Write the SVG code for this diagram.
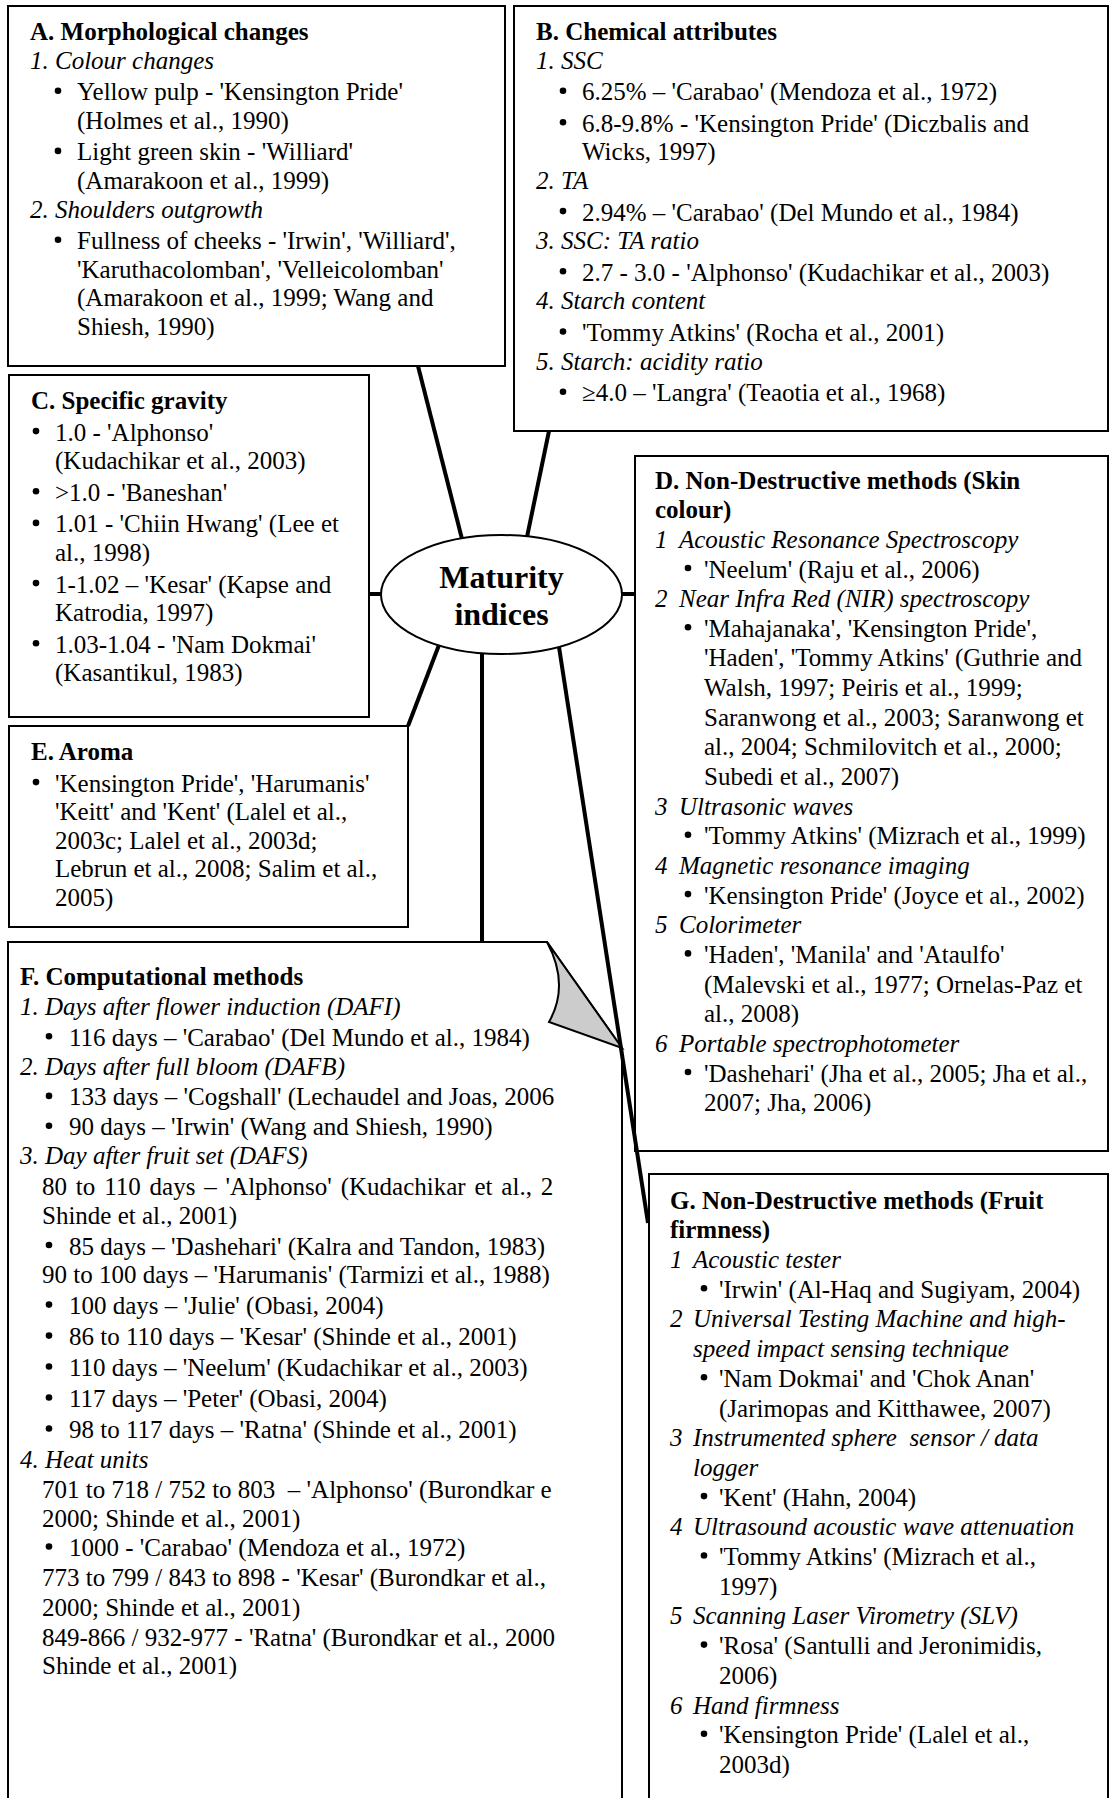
<svg xmlns="http://www.w3.org/2000/svg" width="1110" height="1798" viewBox="0 0 1110 1798">
<style>
text{font-family:"Liberation Serif","Times New Roman",serif;font-size:25px;fill:#000;white-space:pre}
.b{font-weight:bold}
.i{font-style:italic}
.big{font-size:32px;font-weight:bold;text-anchor:middle}
.dot{fill:#000}
.box{fill:#fff;stroke:#000;stroke-width:2}
.con{stroke:#000;stroke-width:4;fill:none;stroke-linecap:butt}
</style>
<defs>
<clipPath id="fclip"><rect x="0" y="942" width="558" height="856"/></clipPath>
</defs>
<rect width="1110" height="1798" fill="#fff"/>

<g id="nodeA">
<rect class="box" x="8" y="6" width="497" height="360"/>
<text class="b" x="30" y="40">A. Morphological changes</text>
<text class="i" x="30" y="68.6">1. Colour changes</text>
<circle class="dot" cx="58" cy="90.7" r="3.3"/><text x="77" y="100.2">Yellow pulp - 'Kensington Pride'</text>
<text x="77" y="128.8">(Holmes et al., 1990)</text>
<circle class="dot" cx="58" cy="150.9" r="3.3"/><text x="77" y="160.4">Light green skin - 'Williard'</text>
<text x="77" y="189">(Amarakoon et al., 1999)</text>
<text class="i" x="30" y="217.6">2. Shoulders outgrowth</text>
<circle class="dot" cx="58" cy="239.7" r="3.3"/><text x="77" y="249.2">Fullness of cheeks - 'Irwin', 'Williard',</text>
<text x="77" y="277.8">'Karuthacolomban', 'Velleicolomban'</text>
<text x="77" y="306.4">(Amarakoon et al., 1999; Wang and</text>
<text x="77" y="335">Shiesh, 1990)</text>
</g>

<g id="nodeB">
<rect class="box" x="514" y="6" width="594" height="425"/>
<text class="b" x="536" y="40">B. Chemical attributes</text>
<text class="i" x="536" y="68.6">1. SSC</text>
<circle class="dot" cx="563" cy="90.7" r="3.3"/><text x="582" y="100.2">6.25% – 'Carabao' (Mendoza et al., 1972)</text>
<circle class="dot" cx="563" cy="122.3" r="3.3"/><text x="582" y="131.8">6.8-9.8% - 'Kensington Pride' (Diczbalis and</text>
<text x="582" y="160.4">Wicks, 1997)</text>
<text class="i" x="536" y="189">2. TA</text>
<circle class="dot" cx="563" cy="211.1" r="3.3"/><text x="582" y="220.6">2.94% – 'Carabao' (Del Mundo et al., 1984)</text>
<text class="i" x="536" y="249.2">3. SSC: TA ratio</text>
<circle class="dot" cx="563" cy="271.3" r="3.3"/><text x="582" y="280.8">2.7 - 3.0 - 'Alphonso' (Kudachikar et al., 2003)</text>
<text class="i" x="536" y="309.4">4. Starch content</text>
<circle class="dot" cx="563" cy="331.5" r="3.3"/><text x="582" y="341">'Tommy Atkins' (Rocha et al., 2001)</text>
<text class="i" x="536" y="369.6">5. Starch: acidity ratio</text>
<circle class="dot" cx="563" cy="391.7" r="3.3"/><text x="582" y="401.2">≥4.0 – 'Langra' (Teaotia et al., 1968)</text>
</g>

<g id="nodeC">
<rect class="box" x="9" y="375" width="360" height="342"/>
<text class="b" x="31" y="409">C. Specific gravity</text>
<circle class="dot" cx="36" cy="431.1" r="3.3"/><text x="55" y="440.6">1.0 - 'Alphonso'</text>
<text x="55" y="469.2">(Kudachikar et al., 2003)</text>
<circle class="dot" cx="36" cy="491.3" r="3.3"/><text x="55" y="500.8">&gt;1.0 - 'Baneshan'</text>
<circle class="dot" cx="36" cy="522.9" r="3.3"/><text x="55" y="532.4">1.01 - 'Chiin Hwang' (Lee et</text>
<text x="55" y="561">al., 1998)</text>
<circle class="dot" cx="36" cy="583.1" r="3.3"/><text x="55" y="592.6">1-1.02 – 'Kesar' (Kapse and</text>
<text x="55" y="621.2">Katrodia, 1997)</text>
<circle class="dot" cx="36" cy="643.3" r="3.3"/><text x="55" y="652.8">1.03-1.04 - 'Nam Dokmai'</text>
<text x="55" y="681.4">(Kasantikul, 1983)</text>
</g>

<g id="nodeE">
<rect class="box" x="9" y="726" width="399" height="201"/>
<text class="b" x="31" y="760">E. Aroma</text>
<circle class="dot" cx="36" cy="782.1" r="3.3"/><text x="55" y="791.6">'Kensington Pride', 'Harumanis'</text>
<text x="55" y="820.2">'Keitt' and 'Kent' (Lalel et al.,</text>
<text x="55" y="848.8">2003c; Lalel et al., 2003d;</text>
<text x="55" y="877.4">Lebrun et al., 2008; Salim et al.,</text>
<text x="55" y="906">2005)</text>
</g>

<g id="nodeD">
<rect class="box" x="635" y="456" width="473" height="695"/>
<text class="b" x="655" y="488.5">D. Non-Destructive methods (Skin</text>
<text class="b" x="655" y="518.2">colour)</text>
<text class="i" x="655" y="547.8">1</text><text class="i" x="679" y="547.8">Acoustic Resonance Spectroscopy</text>
<circle class="dot" cx="688" cy="568" r="3.3"/><text x="704" y="577.5">'Neelum' (Raju et al., 2006)</text>
<text class="i" x="655" y="607.1">2</text><text class="i" x="679" y="607.1">Near Infra Red (NIR) spectroscopy</text>
<circle class="dot" cx="688" cy="627.3" r="3.3"/><text x="704" y="636.8">'Mahajanaka', 'Kensington Pride',</text>
<text x="704" y="666.4">'Haden', 'Tommy Atkins' (Guthrie and</text>
<text x="704" y="696.1">Walsh, 1997; Peiris et al., 1999;</text>
<text x="704" y="725.7">Saranwong et al., 2003; Saranwong et</text>
<text x="704" y="755.4">al., 2004; Schmilovitch et al., 2000;</text>
<text x="704" y="785">Subedi et al., 2007)</text>
<text class="i" x="655" y="814.7">3</text><text class="i" x="679" y="814.7">Ultrasonic waves</text>
<circle class="dot" cx="688" cy="834.8" r="3.3"/><text x="704" y="844.3">'Tommy Atkins' (Mizrach et al., 1999)</text>
<text class="i" x="655" y="874">4</text><text class="i" x="679" y="874">Magnetic resonance imaging</text>
<circle class="dot" cx="688" cy="894.1" r="3.3"/><text x="704" y="903.6">'Kensington Pride' (Joyce et al., 2002)</text>
<text class="i" x="655" y="933.3">5</text><text class="i" x="679" y="933.3">Colorimeter</text>
<circle class="dot" cx="688" cy="953.4" r="3.3"/><text x="704" y="962.9">'Haden', 'Manila' and 'Ataulfo'</text>
<text x="704" y="992.6">(Malevski et al., 1977; Ornelas-Paz et</text>
<text x="704" y="1022.2">al., 2008)</text>
<text class="i" x="655" y="1051.9">6</text><text class="i" x="679" y="1051.9">Portable spectrophotometer</text>
<circle class="dot" cx="688" cy="1072" r="3.3"/><text x="704" y="1081.5">'Dashehari' (Jha et al., 2005; Jha et al.,</text>
<text x="704" y="1111.2">2007; Jha, 2006)</text>
</g>

<g id="nodeG">
<path class="box" d="M649,1800 V1174 H1108 V1800"/>
<text class="b" x="670" y="1208.6">G. Non-Destructive methods (Fruit</text>
<text class="b" x="670" y="1238.3">firmness)</text>
<text class="i" x="670" y="1268">1</text><text class="i" x="693" y="1268">Acoustic tester</text>
<circle class="dot" cx="704" cy="1288.2" r="3.3"/><text x="719" y="1297.7">'Irwin' (Al-Haq and Sugiyam, 2004)</text>
<text class="i" x="670" y="1327.4">2</text><text class="i" x="693" y="1327.4">Universal Testing Machine and high-</text>
<text class="i" x="693" y="1357.1">speed impact sensing technique</text>
<circle class="dot" cx="704" cy="1377.3" r="3.3"/><text x="719" y="1386.8">'Nam Dokmai' and 'Chok Anan'</text>
<text x="719" y="1416.5">(Jarimopas and Kitthawee, 2007)</text>
<text class="i" x="670" y="1446.2">3</text><text class="i" x="693" y="1446.2">Instrumented sphere  sensor / data</text>
<text class="i" x="693" y="1475.9">logger</text>
<circle class="dot" cx="704" cy="1496.1" r="3.3"/><text x="719" y="1505.6">'Kent' (Hahn, 2004)</text>
<text class="i" x="670" y="1535.3">4</text><text class="i" x="693" y="1535.3">Ultrasound acoustic wave attenuation</text>
<circle class="dot" cx="704" cy="1555.5" r="3.3"/><text x="719" y="1565">'Tommy Atkins' (Mizrach et al.,</text>
<text x="719" y="1594.7">1997)</text>
<text class="i" x="670" y="1624.4">5</text><text class="i" x="693" y="1624.4">Scanning Laser Virometry (SLV)</text>
<circle class="dot" cx="704" cy="1644.6" r="3.3"/><text x="719" y="1654.1">'Rosa' (Santulli and Jeronimidis,</text>
<text x="719" y="1683.8">2006)</text>
<text class="i" x="670" y="1713.5">6</text><text class="i" x="693" y="1713.5">Hand firmness</text>
<circle class="dot" cx="704" cy="1733.7" r="3.3"/><text x="719" y="1743.2">'Kensington Pride' (Lalel et al.,</text>
<text x="719" y="1772.9">2003d)</text>
</g>

<g id="nodeF">
<path class="box" d="M8,1800 V942 H547 L622,1048 V1800"/>
<path d="M547,942 L622,1048 L549,1022 Q570,985 547,942 Z" fill="#cccccc" stroke="#000" stroke-width="2" stroke-linejoin="miter"/>
<g clip-path="url(#fclip)">
<text class="b" x="20" y="985">F. Computational methods</text>
<text class="i" x="20" y="1014.8">1. Days after flower induction (DAFI)</text>
<circle class="dot" cx="49" cy="1036.3" r="3.3"/><text x="69" y="1045.8">116 days – 'Carabao' (Del Mundo et al., 1984)</text>
<text class="i" x="20" y="1074.5">2. Days after full bloom (DAFB)</text>
<circle class="dot" cx="49" cy="1095.9" r="3.3"/><text x="69" y="1105.4">133 days – 'Cogshall' (Lechaudel and Joas, 2006</text>
<circle class="dot" cx="49" cy="1125.7" r="3.3"/><text x="69" y="1135.2">90 days – 'Irwin' (Wang and Shiesh, 1990)</text>
<text class="i" x="20" y="1163.9">3. Day after fruit set (DAFS)</text>
<text x="42" y="1194.9" word-spacing="2.6">80 to 110 days – 'Alphonso' (Kudachikar et al., 2</text>
<text x="42" y="1223.5">Shinde et al., 2001)</text>
<circle class="dot" cx="49" cy="1245" r="3.3"/><text x="69" y="1254.5">85 days – 'Dashehari' (Kalra and Tandon, 1983)</text>
<text x="42" y="1283.2">90 to 100 days – 'Harumanis' (Tarmizi et al., 1988)</text>
<circle class="dot" cx="49" cy="1304.6" r="3.3"/><text x="69" y="1314.1">100 days – 'Julie' (Obasi, 2004)</text>
<circle class="dot" cx="49" cy="1335.6" r="3.3"/><text x="69" y="1345.1">86 to 110 days – 'Kesar' (Shinde et al., 2001)</text>
<circle class="dot" cx="49" cy="1366.5" r="3.3"/><text x="69" y="1376">110 days – 'Neelum' (Kudachikar et al., 2003)</text>
<circle class="dot" cx="49" cy="1397.5" r="3.3"/><text x="69" y="1407">117 days – 'Peter' (Obasi, 2004)</text>
<circle class="dot" cx="49" cy="1428.5" r="3.3"/><text x="69" y="1438">98 to 117 days – 'Ratna' (Shinde et al., 2001)</text>
<text class="i" x="20" y="1467.8">4. Heat units</text>
<text x="42" y="1497.6">701 to 718 / 752 to 803  – 'Alphonso' (Burondkar e</text>
<text x="42" y="1527.4">2000; Shinde et al., 2001)</text>
<circle class="dot" cx="49" cy="1546.5" r="3.3"/><text x="69" y="1556">1000 - 'Carabao' (Mendoza et al., 1972)</text>
<text x="42" y="1585.9">773 to 799 / 843 to 898 - 'Kesar' (Burondkar et al.,</text>
<text x="42" y="1615.7">2000; Shinde et al., 2001)</text>
<text x="42" y="1645.5">849-866 / 932-977 - 'Ratna' (Burondkar et al., 2000</text>
<text x="42" y="1674.2">Shinde et al., 2001)</text>
</g>
</g>

<g id="connectors">
<line class="con" x1="418" y1="366" x2="462" y2="539"/>
<line class="con" x1="549" y1="431" x2="527" y2="537"/>
<line class="con" x1="369" y1="594" x2="382" y2="594"/>
<line class="con" x1="621" y1="594" x2="635" y2="594"/>
<line class="con" x1="439" y1="645" x2="408" y2="726"/>
<line class="con" x1="482" y1="654" x2="482" y2="942"/>
<line class="con" x1="559" y1="647" x2="648" y2="1223"/>
</g>

<g id="nodeCenter">
<ellipse cx="501.5" cy="594.5" rx="120.5" ry="59.5" fill="#fff" stroke="#000" stroke-width="2"/>
<text class="big" x="501.5" y="588">Maturity</text>
<text class="big" x="501.5" y="625">indices</text>
</g>
</svg>
